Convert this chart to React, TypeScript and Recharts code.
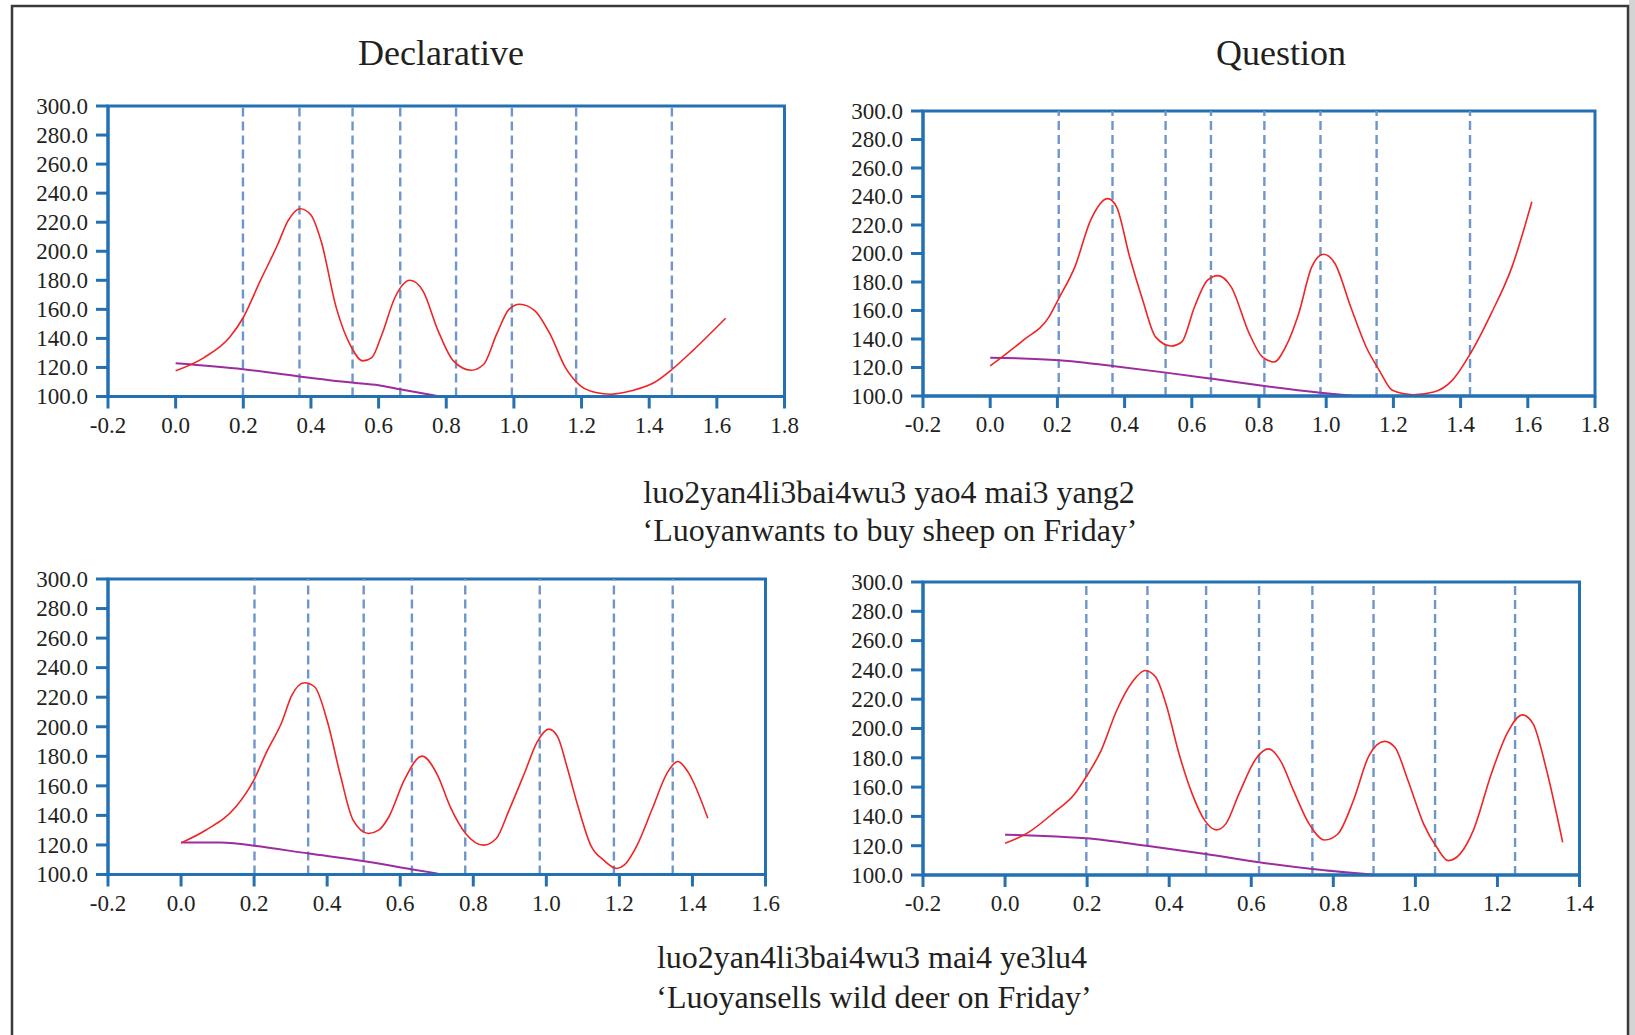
import React from 'react';
import { LineChart, Line, XAxis, YAxis, ReferenceLine, ReferenceArea } from 'recharts';

// ---- tick labels ----
const yTicks = [100, 120, 140, 160, 180, 200, 220, 240, 260, 280, 300];
const xTicksTo18 = [-0.2, 0, 0.2, 0.4, 0.6, 0.8, 1.0, 1.2, 1.4, 1.6, 1.8];
const xTicksTo16 = [-0.2, 0, 0.2, 0.4, 0.6, 0.8, 1.0, 1.2, 1.4, 1.6];
const xTicksTo14 = [-0.2, 0, 0.2, 0.4, 0.6, 0.8, 1.0, 1.2, 1.4];

// ---- titles / captions ----
const columnTitles = ['Declarative', 'Question'];
const sheepCaption = ['luo2yan4li3bai4wu3 yao4 mai3 yang2', '\u2018Luoyanwants to buy sheep on Friday\u2019'];
const deerCaption = ['luo2yan4li3bai4wu3 mai4 ye3lu4', '\u2018Luoyansells wild deer on Friday\u2019'];

// ---- Declarative, sheep ----
const declSheepF0 = [
  { t: 0, hz: 117.7 }, { t: 0.084, hz: 126.8 }, { t: 0.159, hz: 140.6 }, { t: 0.2, hz: 154.4 },
  { t: 0.25, hz: 179.6 }, { t: 0.302, hz: 204.8 }, { t: 0.332, hz: 220.9 }, { t: 0.368, hz: 229.3 },
  { t: 0.4, hz: 225.0 }, { t: 0.43, hz: 207 }, { t: 0.475, hz: 161 }, { t: 0.52, hz: 133.7 },
  { t: 0.553, hz: 124.5 }, { t: 0.58, hz: 126.8 }, { t: 0.61, hz: 142.9 }, { t: 0.648, hz: 168 },
  { t: 0.693, hz: 180 }, { t: 0.731, hz: 172.7 }, { t: 0.776, hz: 145.2 }, { t: 0.821, hz: 124.5 },
  { t: 0.874, hz: 118.1 }, { t: 0.911, hz: 122.2 }, { t: 0.949, hz: 142.9 }, { t: 0.986, hz: 160.1 },
  { t: 1.017, hz: 163.5 }, { t: 1.062, hz: 159 }, { t: 1.107, hz: 142.9 }, { t: 1.152, hz: 120 },
  { t: 1.197, hz: 107.3 }, { t: 1.242, hz: 102.8 }, { t: 1.287, hz: 101.6 }, { t: 1.347, hz: 103.9 },
  { t: 1.415, hz: 109.6 }, { t: 1.468, hz: 118.8 }, { t: 1.528, hz: 131.4 }, { t: 1.626, hz: 153.9 },
];
const declSheepBase = [
  { t: 0, hz: 122.9 }, { t: 0.2, hz: 118.8 }, { t: 0.365, hz: 113.8 }, { t: 0.52, hz: 109.6 },
  { t: 0.6, hz: 107.8 }, { t: 0.663, hz: 105 }, { t: 0.77, hz: 100.5 },
];
const declSheepBounds = [0.199, 0.366, 0.523, 0.664, 0.829, 0.994, 1.184, 1.467];

// ---- Question, sheep ----
const questSheepF0 = [
  { t: 0, hz: 121.1 }, { t: 0.098, hz: 139.1 }, { t: 0.175, hz: 155.5 }, { t: 0.204, hz: 168.4 },
  { t: 0.252, hz: 190.6 }, { t: 0.299, hz: 223.4 }, { t: 0.35, hz: 238.5 }, { t: 0.376, hz: 232.8 },
  { t: 0.415, hz: 197.7 }, { t: 0.454, hz: 167.2 }, { t: 0.492, hz: 141.5 }, { t: 0.539, hz: 135.1 },
  { t: 0.57, hz: 137.9 }, { t: 0.608, hz: 162.5 }, { t: 0.647, hz: 181.3 }, { t: 0.678, hz: 184.5 },
  { t: 0.717, hz: 176.6 }, { t: 0.771, hz: 143.8 }, { t: 0.81, hz: 127.4 }, { t: 0.845, hz: 123.9 },
  { t: 0.879, hz: 134.4 }, { t: 0.918, hz: 157.8 }, { t: 0.957, hz: 190.6 }, { t: 0.992, hz: 199.5 },
  { t: 1.026, hz: 193 }, { t: 1.073, hz: 162.5 }, { t: 1.119, hz: 134.4 }, { t: 1.158, hz: 118 },
  { t: 1.197, hz: 104 }, { t: 1.259, hz: 100.9 }, { t: 1.32, hz: 102.8 }, { t: 1.375, hz: 111 },
  { t: 1.429, hz: 129.7 }, { t: 1.491, hz: 157.8 }, { t: 1.553, hz: 190.6 }, { t: 1.612, hz: 236.3 },
];
const questSheepBase = [
  { t: 0, hz: 126.9 }, { t: 0.204, hz: 125.1 }, { t: 0.283, hz: 123.4 }, { t: 0.364, hz: 121.1 },
  { t: 0.523, hz: 116.4 }, { t: 0.656, hz: 112.2 }, { t: 0.816, hz: 107 }, { t: 0.983, hz: 102.3 },
  { t: 1.085, hz: 100 },
];
const questSheepBounds = [0.204, 0.364, 0.522, 0.657, 0.816, 0.983, 1.15, 1.428];

// ---- Declarative, deer ----
const declDeerF0 = [
  { t: 0, hz: 121.4 }, { t: 0.066, hz: 129.8 }, { t: 0.15, hz: 145.8 }, { t: 0.201, hz: 164.8 },
  { t: 0.234, hz: 182.8 }, { t: 0.276, hz: 203.2 }, { t: 0.303, hz: 221.2 }, { t: 0.338, hz: 229.8 },
  { t: 0.366, hz: 226.9 }, { t: 0.401, hz: 203.2 }, { t: 0.436, hz: 167.3 }, { t: 0.471, hz: 136.8 },
  { t: 0.513, hz: 127.8 }, { t: 0.541, hz: 130 }, { t: 0.569, hz: 139.1 }, { t: 0.611, hz: 163.9 },
  { t: 0.66, hz: 180.1 }, { t: 0.702, hz: 167.3 }, { t: 0.737, hz: 145.8 }, { t: 0.779, hz: 127.8 },
  { t: 0.828, hz: 119.9 }, { t: 0.863, hz: 124.4 }, { t: 0.898, hz: 143.6 }, { t: 0.94, hz: 168.5 },
  { t: 0.975, hz: 189.8 }, { t: 1.007, hz: 198.4 }, { t: 1.031, hz: 193.2 }, { t: 1.059, hz: 170.7 },
  { t: 1.087, hz: 145.8 }, { t: 1.122, hz: 119.6 }, { t: 1.157, hz: 109.7 }, { t: 1.192, hz: 104.1 },
  { t: 1.213, hz: 106.3 }, { t: 1.248, hz: 119.6 }, { t: 1.29, hz: 144.5 }, { t: 1.332, hz: 169.3 },
  { t: 1.36, hz: 176.5 }, { t: 1.388, hz: 169.3 }, { t: 1.442, hz: 138.1 },
];
const declDeerBase = [
  { t: 0, hz: 121.7 }, { t: 0.108, hz: 121.7 }, { t: 0.15, hz: 121 }, { t: 0.201, hz: 119.4 },
  { t: 0.35, hz: 114.2 }, { t: 0.502, hz: 109 }, { t: 0.634, hz: 103.4 }, { t: 0.702, hz: 100.7 },
];
const declDeerBounds = [0.201, 0.348, 0.5, 0.632, 0.778, 0.982, 1.185, 1.346];

// ---- Question, deer ----
const questDeerF0 = [
  { t: 0, hz: 121.6 }, { t: 0.056, hz: 128.9 }, { t: 0.119, hz: 142.6 }, { t: 0.17, hz: 155.4 },
  { t: 0.197, hz: 166.7 }, { t: 0.234, hz: 184.9 }, { t: 0.272, hz: 212.3 }, { t: 0.31, hz: 231.7 },
  { t: 0.341, hz: 239.6 }, { t: 0.367, hz: 235.1 }, { t: 0.392, hz: 216.9 }, { t: 0.424, hz: 182.7 },
  { t: 0.456, hz: 155.4 }, { t: 0.487, hz: 137.1 }, { t: 0.515, hz: 130.8 }, { t: 0.538, hz: 134.9 },
  { t: 0.57, hz: 155.4 }, { t: 0.614, hz: 180.4 }, { t: 0.642, hz: 186.1 }, { t: 0.671, hz: 178.1 },
  { t: 0.703, hz: 157.6 }, { t: 0.741, hz: 134.9 }, { t: 0.779, hz: 123.9 }, { t: 0.811, hz: 128 },
  { t: 0.849, hz: 150.8 }, { t: 0.887, hz: 181.5 }, { t: 0.925, hz: 191.2 }, { t: 0.95, hz: 187.2 },
  { t: 0.982, hz: 164.5 }, { t: 1.02, hz: 134.9 }, { t: 1.052, hz: 118.9 }, { t: 1.08, hz: 109.8 },
  { t: 1.109, hz: 114.4 }, { t: 1.141, hz: 130.3 }, { t: 1.185, hz: 169 }, { t: 1.223, hz: 196.4 },
  { t: 1.261, hz: 209.3 }, { t: 1.287, hz: 203.2 }, { t: 1.318, hz: 173.6 }, { t: 1.359, hz: 122.3 },
];
const questDeerBase = [
  { t: 0, hz: 127.5 }, { t: 0.081, hz: 126.8 }, { t: 0.197, hz: 125.1 }, { t: 0.345, hz: 120 },
  { t: 0.489, hz: 114.4 }, { t: 0.619, hz: 108.7 }, { t: 0.749, hz: 104.1 }, { t: 0.898, hz: 100.2 },
];
const questDeerBounds = [0.198, 0.347, 0.49, 0.619, 0.749, 0.898, 1.048, 1.243];

// ---- styling ----
const AXIS_BLUE = '#2370b2';
const DASH_BLUE = '#6f96cc';
const F0_RED = '#f02424';
const BASE_PURPLE = '#9c2c9f';
const TEXT = '#231f20';
const SERIF = '"Liberation Serif", "Times New Roman", serif';

type Pt = { t: number; hz: number };

const renderXTick = (p: any) => {
  const v = p && p.payload ? p.payload.value : 0;
  return (
    <text key={`x-${v}`} x={p.x} y={p.y} dy="0.71em" textAnchor="middle" fill={TEXT}
      style={{ fontFamily: SERIF, fontSize: 23 }}>
      {Number(v).toFixed(1)}
    </text>
  );
};

const renderYTick = (p: any) => {
  const v = p && p.payload ? p.payload.value : 0;
  return (
    <text key={`y-${v}`} x={p.x} y={p.y} dy="0.34em" textAnchor="end" fill={TEXT}
      style={{ fontFamily: SERIF, fontSize: 23 }}>
      {Number(v).toFixed(1)}
    </text>
  );
};

function Panel(props: {
  left: number; top: number; right: number; bottom: number;
  xMax: number; xTicks: number[]; f0: Pt[]; base: Pt[]; bounds: number[];
}) {
  const { left, top, right, bottom, xMax, xTicks, f0, base, bounds } = props;
  const yw = 100, xh = 50, ml = 4, mt = 24, mr = 24, mb = 4;
  const W = right - left + yw + ml + mr;
  const H = bottom - top + mt + xh + mb;
  return (
    <div style={{ position: 'absolute', left: left - yw - ml, top: top - mt, fontFamily: SERIF }}>
      <LineChart width={W} height={H} margin={{ top: mt, right: mr, bottom: mb, left: ml }}
        style={{ fontFamily: SERIF }}>
        <XAxis
          type="number" dataKey="t" domain={[-0.2, xMax]} ticks={xTicks} allowDataOverflow
          interval={0} height={xh} tickSize={12} tickMargin={8}
          axisLine={{ stroke: AXIS_BLUE, strokeWidth: 3 }}
          tickLine={{ stroke: AXIS_BLUE, strokeWidth: 3 }}
          tick={renderXTick}
        />
        <YAxis
          type="number" dataKey="hz" domain={[100, 300]} ticks={yTicks} allowDataOverflow
          interval={0} width={yw} tickSize={12} tickMargin={8}
          axisLine={{ stroke: AXIS_BLUE, strokeWidth: 3 }}
          tickLine={{ stroke: AXIS_BLUE, strokeWidth: 3 }}
          tick={renderYTick}
        />
        <ReferenceArea x1={-0.2} x2={xMax} y1={100} y2={300} fill="none" fillOpacity={0}
          stroke={AXIS_BLUE} strokeWidth={3} ifOverflow="visible" />
        {bounds.map((b, i) => (
          <ReferenceLine key={i} x={b} stroke={DASH_BLUE} strokeWidth={2.4} strokeDasharray="9 5" />
        ))}
        <Line data={base} dataKey="hz" type="monotone" stroke={BASE_PURPLE} strokeWidth={2}
          dot={false} activeDot={false} isAnimationActive={false} />
        <Line data={f0} dataKey="hz" type="monotone" stroke={F0_RED} strokeWidth={1.6}
          dot={false} activeDot={false} isAnimationActive={false} />
      </LineChart>
    </div>
  );
}

export default function App() {
  return (
    <div style={{ position: 'fixed', left: 0, top: 0, width: 1635, height: 1035, background: '#fff', overflow: 'hidden', fontFamily: SERIF }}>
      <svg width={1635} height={1035} style={{ position: 'absolute', left: 0, top: 0 }}>
        <rect x={1629} y={0} width={6} height={1035} fill="#d4d4d4" />
        <rect x={12} y={6} width={1616} height={1040} fill="none" stroke="#3a3a3a" strokeWidth={2.5} />
        <text x={441} y={65} textAnchor="middle" fontFamily={SERIF} fontSize={36} fill={TEXT}>{columnTitles[0]}</text>
        <text x={1281} y={65} textAnchor="middle" fontFamily={SERIF} fontSize={36} fill={TEXT}>{columnTitles[1]}</text>
        <text x={889} y={503} textAnchor="middle" fontFamily={SERIF} fontSize={32} fill={TEXT}>{sheepCaption[0]}</text>
        <text x={890} y={541} textAnchor="middle" fontFamily={SERIF} fontSize={32} fill={TEXT}>{sheepCaption[1]}</text>
        <text x={872} y={968} textAnchor="middle" fontFamily={SERIF} fontSize={32} fill={TEXT}>{deerCaption[0]}</text>
        <text x={874} y={1008} textAnchor="middle" fontFamily={SERIF} fontSize={32} fill={TEXT}>{deerCaption[1]}</text>
      </svg>
      <Panel left={107.5} top={105.5} right={784} bottom={396} xMax={1.8} xTicks={xTicksTo18}
        f0={declSheepF0} base={declSheepBase} bounds={declSheepBounds} />
      <Panel left={922.5} top={111} right={1594.5} bottom={396} xMax={1.8} xTicks={xTicksTo18}
        f0={questSheepF0} base={questSheepBase} bounds={questSheepBounds} />
      <Panel left={107.5} top={579} right={765} bottom={874.5} xMax={1.6} xTicks={xTicksTo16}
        f0={declDeerF0} base={declDeerBase} bounds={declDeerBounds} />
      <Panel left={922.5} top={581.5} right={1579} bottom={874.5} xMax={1.4} xTicks={xTicksTo14}
        f0={questDeerF0} base={questDeerBase} bounds={questDeerBounds} />
    </div>
  );
}
